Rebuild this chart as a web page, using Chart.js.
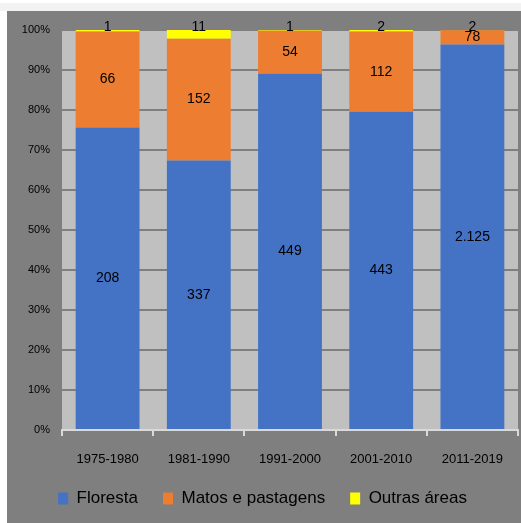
<!DOCTYPE html>
<html>
<head>
<meta charset="utf-8">
<script src="https://cdn.jsdelivr.net/npm/chart.js@4/dist/chart.umd.min.js"></script>
<style>
    html, body { margin: 0; padding: 0; background: #fff; }
    #wrap {
        position: absolute;
        left: 7px; top: 11px;
        width: 514px; height: 512px;
        background: #7f7f7f;
    }
    #top-edge { position: absolute; left: 0; top: 3px; width: 521px; height: 8px; background: #f2f2f2; }
</style>
</head>
<body>
<div id="top-edge"></div>
<div id="wrap"><canvas id="landUseChart" width="514" height="512"></canvas></div>
<script>
const periods = ['1975-1980', '1981-1990', '1991-2000', '2001-2010', '2011-2019'];
const floresta = [208, 337, 449, 443, 2125];
const matos = [66, 152, 54, 112, 78];
const outras = [1, 11, 1, 2, 2];
const yTicks = [0, 10, 20, 30, 40, 50, 60, 70, 80, 90, 100];

// totals per period, to stack as 100%
const totals = periods.map((p, i) => floresta[i] + matos[i] + outras[i]);
const pct = arr => arr.map((v, i) => v / totals[i] * 100);

const FONT = "'Liberation Sans', 'DejaVu Sans', sans-serif";

// light grey plot background
const plotBg = {
    id: 'plotBg',
    beforeDraw(chart) {
        const a = chart.chartArea, ctx = chart.ctx;
        ctx.save();
        ctx.fillStyle = '#c0c0c0';
        ctx.fillRect(a.left, a.top, a.right - a.left, a.bottom - a.top);
        ctx.restore();
    }
};

// raw counts written in the middle of each segment (pt format: 2.125)
const segLabels = {
    id: 'segLabels',
    afterDatasetsDraw(chart) {
        const ctx = chart.ctx;
        ctx.save();
        ctx.font = '14px ' + FONT;
        ctx.fillStyle = '#000';
        ctx.textAlign = 'center';
        ctx.textBaseline = 'middle';
        chart.data.datasets.forEach((ds, di) => {
            chart.getDatasetMeta(di).data.forEach((bar, i) => {
                const v = ds.raw[i];
                const txt = v >= 1000 ? Math.floor(v / 1000) + '.' + String(v % 1000).padStart(3, '0') : String(v);
                let y = (bar.y + bar.base) / 2;
                if (di === 2) y = bar.y - 3;
                ctx.fillText(txt, bar.x, y);
            });
        });
        ctx.restore();
    }
};

const ctx = document.getElementById('landUseChart').getContext('2d');
new Chart(ctx, {
    type: 'bar',
    data: {
        labels: periods,
        datasets: [
            { label: 'Floresta', data: pct(floresta), raw: floresta, backgroundColor: '#4472c4' },
            { label: 'Matos e pastagens', data: pct(matos), raw: matos, backgroundColor: '#ed7d31' },
            { label: 'Outras áreas', data: pct(outras), raw: outras, backgroundColor: '#ffff00' }
        ]
    },
    options: {
        responsive: false,
        animation: false,
        categoryPercentage: 0.7,
        barPercentage: 1,
        layout: { padding: { top: 19, right: 3, left: 0, bottom: 6 } },
        plugins: {
            legend: {
                position: 'bottom',
                labels: {
                    boxWidth: 10, boxHeight: 12,
                    padding: 25,
                    color: '#000',
                    font: { family: FONT, size: 17 }
                }
            },
            tooltip: { enabled: false }
        },
        scales: {
            x: {
                stacked: true,
                grid: { drawOnChartArea: false, drawTicks: true, tickLength: 6, color: '#d9d9d9', lineWidth: 2 },
                border: { color: '#d9d9d9', width: 2 },
                ticks: { color: '#000', padding: 16, font: { family: FONT, size: 13 } },
                afterFit: s => { s.height = 35; }
            },
            y: {
                stacked: true,
                min: 0, max: 100,
                afterBuildTicks: s => { s.ticks = yTicks.map(v => ({ value: v })); },
                grid: { color: '#7f7f7f', lineWidth: 2, drawTicks: false },
                border: { display: false },
                ticks: {
                    color: '#000', padding: 12,
                    font: { family: FONT, size: 11 },
                    callback: v => v + '%'
                },
                afterFit: s => { s.width = 55; }
            }
        }
    },
    plugins: [plotBg, segLabels]
});
</script>
</body>
</html>
